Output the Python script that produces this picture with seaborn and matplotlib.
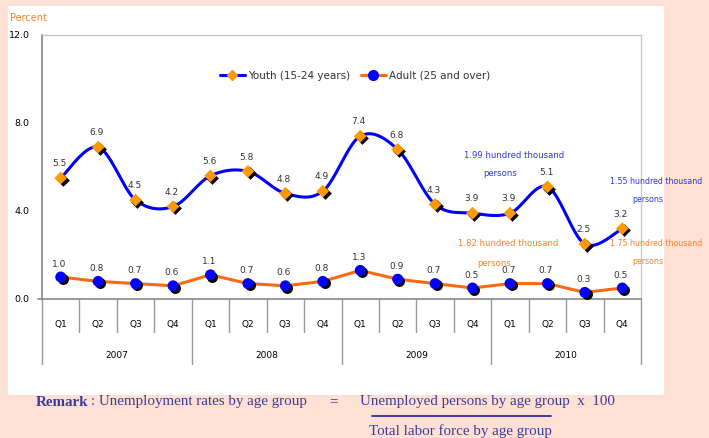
import numpy as np
import pandas as pd
import matplotlib
matplotlib.use("Agg")
import matplotlib.pyplot as plt
import matplotlib.transforms as mtransforms
from matplotlib.lines import Line2D
from matplotlib.patches import Rectangle
import seaborn as sns

# data
quarters = ["Q1", "Q2", "Q3", "Q4"] * 4
years = ["2007", "2008", "2009", "2010"]
youth = [5.5, 6.9, 4.5, 4.2, 5.6, 5.8, 4.8, 4.9, 7.4, 6.8, 4.3, 3.9, 3.9, 5.1, 2.5, 3.2]
adult = [1.0, 0.8, 0.7, 0.6, 1.1, 0.7, 0.6, 0.8, 1.3, 0.9, 0.7, 0.5, 0.7, 0.7, 0.3, 0.5]
yticks = [0.0, 4.0, 8.0, 12.0]

BLUE = "#0000FF"
ORANGE = "#FF9900"
ADULT_LINE = "#FF6A10"
PEACH = "#FEE1D4"
TXT = "#333333"


def smooth_curve(xs, ys, n=24):
    # Excel-like smoothed line: cubic bezier segments, Catmull-Rom controls
    p = np.column_stack([xs, ys]).astype(float)
    p = np.vstack([p[0], p, p[-1]])
    out = []
    for i in range(1, len(p) - 2):
        p0, p1, p2, p3 = p[i - 1], p[i], p[i + 1], p[i + 2]
        c1 = p1 + (p2 - p0) / 6.0
        c2 = p2 - (p3 - p1) / 6.0
        t = np.linspace(0, 1, n)[:, None]
        seg = ((1 - t) ** 3) * p1 + 3 * ((1 - t) ** 2) * t * c1 + 3 * (1 - t) * t ** 2 * c2 + t ** 3 * p2
        out.append(seg if i == 1 else seg[1:])
    seg = np.vstack(out)
    return seg[:, 0], seg[:, 1]


sns.set_style("white")
plt.rcParams["font.family"] = ["DejaVu Sans"]

fig = plt.figure(figsize=(7.09, 4.38), dpi=100, facecolor=PEACH)
W, H = 709, 438
fig.patches.append(Rectangle((8 / W, 1 - 395 / H), 656 / W, 389 / H,
                             transform=fig.transFigure, facecolor="white",
                             edgecolor="none", zorder=-10))

ax = fig.add_axes([42 / W, 1 - 299 / H, 599 / W, 264 / H])
ax.set_facecolor("none")

df = pd.DataFrame({"x": np.arange(len(youth)) + 0.5, "youth": youth, "adult": adult})
shadow = mtransforms.offset_copy(ax.transData, fig=fig, x=1.3, y=-1.3, units="points")

# adult series
sns.lineplot(data=df, x="x", y="adult", ax=ax, color=ADULT_LINE, linewidth=2.2, zorder=3)
ax.scatter(df["x"], df["adult"], s=62, color="black", transform=shadow, zorder=4, linewidths=0)
sns.scatterplot(data=df, x="x", y="adult", ax=ax, s=62, color=BLUE, edgecolor="none", zorder=5)

# youth series
sx, sy = smooth_curve(df["x"].values, df["youth"].values)
ax.plot(sx, sy, color=BLUE, linewidth=2.2, zorder=3)
ax.scatter(df["x"], df["youth"], s=42, marker="D", color="black", transform=shadow, zorder=4, linewidths=0)
sns.scatterplot(data=df, x="x", y="youth", ax=ax, s=42, marker="D", color=ORANGE, edgecolor="none", zorder=5)

# value labels
for x, v in zip(df["x"], youth):
    ax.annotate(f"{v:.1f}", (x, v), xytext=(-1, 7), textcoords="offset points",
                ha="center", va="bottom", fontsize=6.5, color=TXT)
for x, v in zip(df["x"], adult):
    ax.annotate(f"{v:.1f}", (x, v), xytext=(-1, 6), textcoords="offset points",
                ha="center", va="bottom", fontsize=6.5, color=TXT)

ax.set_xlim(0, 16)
ax.set_ylim(0, 12)
ax.set_yticks(yticks)
ax.set_yticklabels([f"{t:.1f}" for t in yticks], fontsize=6.8, color="black")
ax.tick_params(axis="y", length=3, width=1, color="#888888", pad=6, direction="out")
ax.set_xticks([])
ax.set_xlabel("")
ax.set_ylabel("")
for side in ["top", "right"]:
    ax.spines[side].set_color("#C8C8C8")
    ax.spines[side].set_linewidth(1)
ax.spines["left"].set_color("#888888")
ax.spines["left"].set_linewidth(1.2)
ax.spines["bottom"].set_color("#888888")
ax.spines["bottom"].set_linewidth(1.2)

# category axis (quarters and years)
blend = mtransforms.blended_transform_factory(ax.transData, ax.transAxes)
px = 1.0 / 264
for b in range(17):
    depth = 65 if b % 4 == 0 else 33
    ax.plot([b, b], [0, -depth * px], transform=blend, color="#999999",
            linewidth=1, clip_on=False)
for i, q in enumerate(quarters):
    ax.text(i + 0.5, -25 * px, q, transform=blend, ha="center", va="center",
            fontsize=6.5, color="black")
for j, yr in enumerate(years):
    ax.text(j * 4 + 2, -57 * px, yr, transform=blend, ha="center", va="center",
            fontsize=6.5, color="black")
ax.plot([-0.1, 0], [0, 0], transform=blend, color="#888888", linewidth=1.2, clip_on=False)

# legend
handles = [
    Line2D([], [], color=BLUE, linewidth=2.2, marker="D", markersize=5.5,
           markerfacecolor=ORANGE, markeredgecolor=ORANGE),
    Line2D([], [], color=ADULT_LINE, linewidth=2.2, marker="o", markersize=7,
           markerfacecolor=BLUE, markeredgecolor=BLUE),
]
ax.legend(handles, ["Youth (15-24 years)", "Adult (25 and over)"], ncol=2,
          loc="center", bbox_to_anchor=(355 / W, 1 - 76 / H), bbox_transform=fig.transFigure,
          frameon=False, fontsize=7.5, handlelength=2.4, handletextpad=0.3,
          columnspacing=1.0, labelcolor=TXT)

# annotations
fig.text(10 / W, 1 - 18 / H, "Percent", fontsize=7, color="#FF7F27", va="center")
ann_blue = "#3333FF"
ann_or = "#FF7F27"
fs = 6.1
fs_r = 5.7  # right-hand notes a touch smaller so they fit inside the picture
fig.text(514 / W, 1 - 155 / H, "1.99 hundred thousand", fontsize=fs, color=ann_blue, ha="center", va="center")
fig.text(500 / W, 1 - 173 / H, "persons", fontsize=fs, color=ann_blue, ha="center", va="center")
fig.text(610 / W, 1 - 182 / H, "1.55 hundred thousand", fontsize=fs_r, color=ann_blue, ha="left", va="center")
fig.text(648 / W, 1 - 200 / H, "persons", fontsize=fs_r, color=ann_blue, ha="center", va="center")
fig.text(458 / W, 1 - 244 / H, "1.82 hundred thousand", fontsize=fs, color=ann_or, ha="left", va="center")
fig.text(494 / W, 1 - 263 / H, "persons", fontsize=fs, color=ann_or, ha="center", va="center")
fig.text(610 / W, 1 - 244 / H, "1.75 hundred thousand", fontsize=fs_r, color=ann_or, ha="left", va="center")
fig.text(648 / W, 1 - 262 / H, "persons", fontsize=fs_r, color=ann_or, ha="center", va="center")

# remark
RC = "#3B3B9B"
serif = ["Liberation Serif", "DejaVu Serif"]
rfs = 10.8
fig.text(36 / W, 1 - 402 / H, "Remark", fontsize=rfs, color=RC, family=serif,
         fontweight="bold", va="center")
fig.text(91 / W, 1 - 402 / H, ": Unemployment rates by age group", fontsize=rfs, color=RC,
         family=serif, va="center")
fig.text(333 / W, 1 - 402 / H, "=", fontsize=rfs, color=RC, family=serif, va="center", ha="center")
fig.text(360 / W, 1 - 402 / H, "Unemployed persons by age group  x  100", fontsize=rfs,
         color=RC, family=serif, va="center")
fig.add_artist(Line2D([372 / W, 551 / W], [1 - 416 / H, 1 - 416 / H], color="#2E2E9E",
                      linewidth=1.3, transform=fig.transFigure))
fig.text(369 / W, 1 - 431 / H, "Total labor force by age group", fontsize=rfs, color=RC,
         family=serif, va="center")

fig.savefig("out.png", dpi=100, facecolor=PEACH)
